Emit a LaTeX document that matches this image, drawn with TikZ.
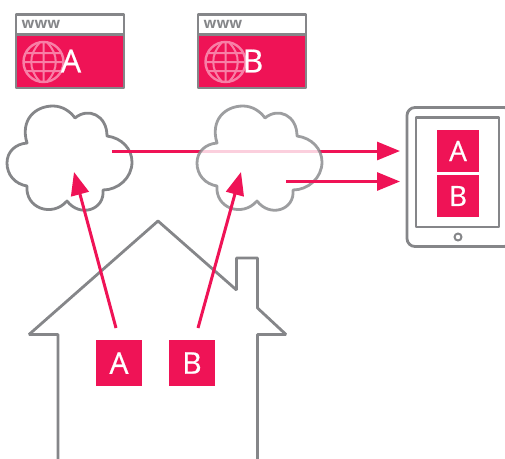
\documentclass[tikz,border=0pt]{standalone}
\usepackage{fontspec}
\setmainfont{Open Sans}
\newfontfamily\labfont[RawFeature={embolden=0.6}]{Open Sans}
\usetikzlibrary{arrows.meta}
\definecolor{pinkc}{HTML}{EF1356}
\definecolor{grayc}{HTML}{858689}
\definecolor{globec}{HTML}{F87FA6}
\tikzset{
 x=1pt,y=-1pt,
 outline/.style={draw=grayc,line width=2.8pt,line join=round},
 cloudshape/.style={draw=grayc,line width=2.8pt,line join=round,fill=white},
 flow/.style={draw=pinkc,line width=3pt,-{Triangle[length=23pt,width=18pt]}},
 tile/.style={fill=pinkc,text=white,minimum size=42pt,inner sep=0pt,font=\labfont\fontsize{28}{28}\selectfont},
 tilebig/.style={tile,minimum size=46pt,font=\labfont\fontsize{30}{30}\selectfont},
 label/.style={text=white,inner sep=0pt,font=\labfont\fontsize{32}{32}\selectfont},
 www/.style={text=grayc,inner sep=0pt,font=\bfseries\fontsize{15}{15}\selectfont},
 globeline/.style={draw=globec,line width=2pt},
}
\newcommand{\cloudoutline}{
 (27,143) .. controls (20,120) and (35,106) .. (53,106)
 .. controls (62,106) and (70,111) .. (75,118)
 .. controls (88,107) and (107,115) .. (107,136)
 .. controls (122,138) and (132,149) .. (132,162)
 .. controls (132,178) and (118,190) .. (103,190)
 .. controls (105,210) and (80,218) .. (67,201)
 .. controls (52,218) and (25,208) .. (27,186)
 .. controls (15,184) and (7,175) .. (7,163)
 .. controls (7,152) and (15,144) .. (27,143) -- cycle}
\newcommand{\globeat}[2]{
 \begin{scope}[shift={(#1,#2)}]
  \draw[globeline,line width=2.4pt] (0,0) circle[radius=20];
  \draw[globeline] (0,-20) -- (0,20) (-18,-9) -- (18,-9) (-20,0) -- (20,0) (-18,9) -- (18,9)
   (-4,-19) .. controls (-15,-8) and (-15,8) .. (-4,19)
   (4,-19) .. controls (15,-8) and (15,8) .. (4,19);
 \end{scope}}
\newcommand{\windowat}[1]{
 \begin{scope}[shift={(#1,0)}]
  \fill[pinkc] (17,35) rectangle (123,87);
  \draw[outline] (16,14.5) rectangle (124,88);
  \draw[outline] (16,34.5) -- (124,34.5);
 \end{scope}}
\begin{document}
\begin{tikzpicture}
\useasboundingbox (0,0) rectangle (505,458);
% windows
\windowat{0}
\windowat{182}
\node[www] (w1) at (41,24) {www};
\node[www] (w2) at (223,24) {www};
\globeat{43.5}{62}
\globeat{225.5}{62}
\node[label] (wa) at (71,61) {A};
\node[label] (wb) at (253,61) {B};
% first cloud
\draw[cloudshape] \cloudoutline;
% arrow through second cloud
\coordinate (c1out) at (112,151);
\coordinate (t1) at (400,151);
\coordinate (c2out) at (286,181.5);
\coordinate (t2) at (400,181.5);
\draw[flow] (c1out) -- (t1);
% second cloud
\begin{scope}[xshift=190pt,opacity=.8]
 \draw[cloudshape] \cloudoutline;
\end{scope}
\draw[flow] (c2out) -- (t2);
% tablet
\draw[outline,rounded corners=8pt] (407,107.5) rectangle (512,246.5);
\draw[outline] (416,117.5) rectangle (499,227);
\node[outline,circle,line width=2pt,minimum size=7pt,inner sep=0pt] (btn) at (458,237) {};
\node[tile] (ta) at (458,151) {A};
\node[tile] (tb) at (458,196) {B};
% house
\draw[outline,line join=bevel] (58,460) -- (58,334.5) -- (29,334.5) -- (158,221) -- (236.5,290) -- (236.5,258) -- (257.5,258) -- (257.5,308) -- (286,334.5) -- (257.5,334.5) -- (257.5,460);
\node[tilebig] (ha) at (119,363) {A};
\node[tilebig] (hb) at (192,363) {B};
\coordinate (a1) at (116,328);
\coordinate (a2) at (74,172);
\coordinate (b1) at (198,328);
\coordinate (b2) at (241,172);
\draw[flow] (a1) -- (a2);
\draw[flow] (b1) -- (b2);
\end{tikzpicture}
\end{document}
